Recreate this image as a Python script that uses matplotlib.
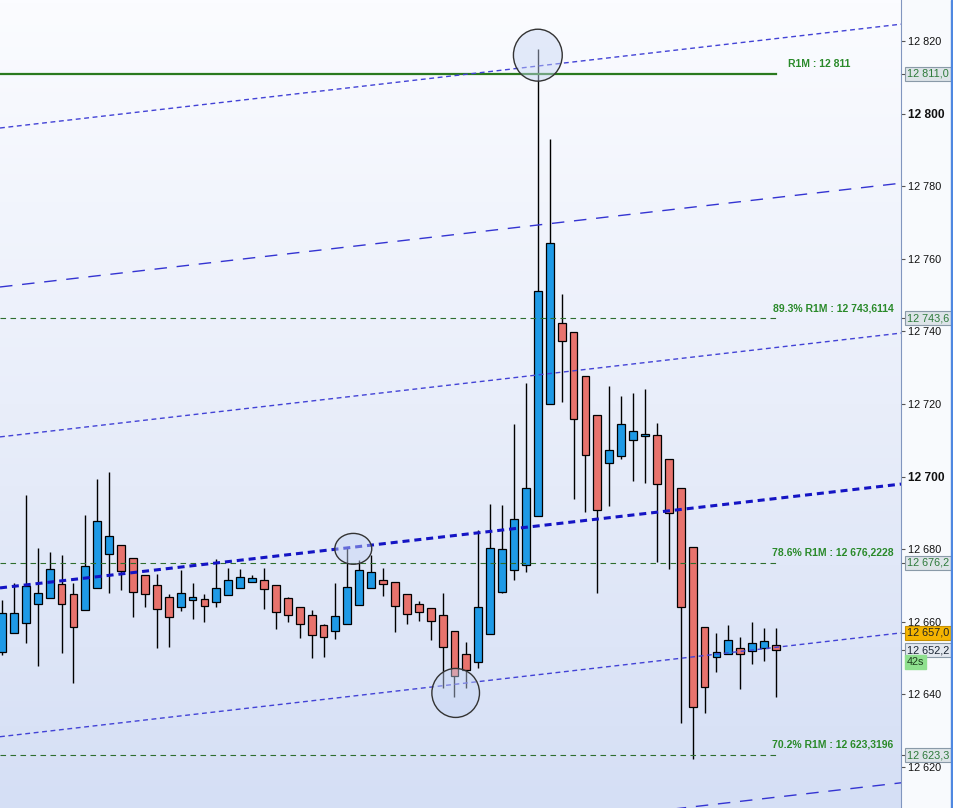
import numpy as np
import matplotlib.pyplot as plt
import matplotlib.transforms as mtrans
from matplotlib.patches import Ellipse, Rectangle
from matplotlib.colors import LinearSegmentedColormap

plt.rcParams['font.family'] = ['Liberation Sans', 'DejaVu Sans']

# bougies (une par barre)
opens = [12651.7, 12656.9, 12659.7, 12664.9, 12666.6, 12670.4, 12667.7, 12663.3, 12669.3, 12678.7,
         12681.2, 12677.6, 12672.9, 12670.1, 12666.8, 12664.1, 12666.0, 12666.3, 12665.5, 12667.4,
         12669.3, 12671.0, 12671.5, 12670.1, 12666.6, 12664.1, 12661.9, 12659.1, 12657.5, 12659.4,
         12664.6, 12669.3, 12671.5, 12671.0, 12667.7, 12664.9, 12663.8, 12661.9, 12657.5, 12651.1,
         12648.9, 12656.6, 12668.2, 12674.3, 12675.7, 12689.2, 12720.0, 12742.3, 12739.8, 12727.7,
         12717.0, 12703.8, 12705.7, 12710.1, 12711.2, 12711.5, 12704.9, 12696.9, 12680.6, 12658.6,
         12650.3, 12651.1, 12652.8, 12651.9, 12652.8, 12653.6]
highs = [12666.0, 12670.7, 12694.9, 12680.3, 12679.2, 12678.4, 12670.7, 12689.4, 12699.3, 12701.3,
         12681.2, 12677.6, 12672.9, 12673.2, 12667.7, 12674.3, 12670.7, 12667.7, 12677.3, 12674.8,
         12674.6, 12672.9, 12674.8, 12670.1, 12666.8, 12664.1, 12663.3, 12659.4, 12670.7, 12680.6,
         12677.0, 12678.4, 12674.8, 12671.0, 12667.7, 12665.7, 12663.8, 12667.9, 12657.5, 12654.4,
         12685.3, 12692.5, 12692.2, 12714.5, 12725.8, 12817.8, 12793.0, 12750.3, 12739.8, 12727.7,
         12717.0, 12725.0, 12722.2, 12723.0, 12724.1, 12714.8, 12704.9, 12696.9, 12680.6, 12658.6,
         12656.9, 12659.1, 12655.8, 12660.0, 12658.3, 12658.3]
lows = [12650.9, 12656.9, 12654.2, 12647.8, 12666.6, 12651.4, 12643.1, 12663.3, 12669.3, 12667.9,
        12668.8, 12661.3, 12664.1, 12652.8, 12653.1, 12663.0, 12660.8, 12660.0, 12664.1, 12667.4,
        12669.3, 12671.0, 12663.5, 12658.0, 12660.0, 12655.5, 12650.0, 12650.3, 12655.3, 12659.4,
        12664.6, 12669.3, 12667.1, 12657.2, 12659.4, 12660.2, 12655.0, 12641.8, 12639.3, 12641.8,
        12647.3, 12656.6, 12667.9, 12671.5, 12673.7, 12689.2, 12720.0, 12720.6, 12693.8, 12690.3,
        12667.9, 12691.9, 12704.9, 12698.8, 12698.2, 12676.5, 12674.6, 12632.1, 12622.2, 12634.9,
        12646.2, 12651.1, 12641.5, 12648.4, 12649.2, 12639.3]
closes = [12662.4, 12662.4, 12669.9, 12667.9, 12674.6, 12664.9, 12658.6, 12675.4, 12687.8, 12683.6,
          12674.0, 12668.2, 12667.7, 12663.5, 12661.3, 12667.9, 12666.8, 12664.4, 12669.3, 12671.5,
          12672.3, 12672.1, 12669.0, 12662.7, 12661.9, 12659.4, 12656.4, 12655.8, 12661.6, 12669.6,
          12674.3, 12673.7, 12670.4, 12664.4, 12662.2, 12662.7, 12660.2, 12653.1, 12645.1, 12646.7,
          12664.1, 12680.3, 12680.1, 12688.3, 12696.9, 12751.1, 12764.4, 12737.4, 12715.9, 12706.0,
          12690.8, 12707.3, 12714.5, 12712.6, 12711.7, 12697.9, 12689.9, 12664.1, 12636.5, 12642.0,
          12651.7, 12655.0, 12651.1, 12654.2, 12654.7, 12652.2]

# canal (lignes paralleles) : valeur a la bougie 0 + pente par bougie
channel_base = [12796.1, 12752.3, 12711.0, 12669.4, 12628.4, 12587.1]
channel_slope = 0.378

# niveaux R1M
r1m = 12811.0
fib_levels = [12743.6114, 12676.2228, 12623.3196]
fib_labels = ['89.3% R1M : 12 743,6114', '78.6% R1M : 12 676,2228', '70.2% R1M : 12 623,3196']

# etiquettes de prix sur l'axe
box_values = [12811.0, 12743.6, 12676.2, 12657.0, 12652.2, 12623.3]
yticks = [12620, 12640, 12660, 12680, 12700, 12720, 12740, 12760, 12780, 12800, 12820]

# cercles (indice bougie, prix, largeur, hauteur)
circle_idx = [45.0, 29.5, 38.1]
circle_price = [12816.1, 12680.1, 12640.4]
circle_w = [4.1, 3.1, 4.0]
circle_h = [14.3, 8.5, 13.5]

x_lo, x_hi = -0.17, 75.5
y_lo, y_hi = 12608.7, 12831.3

fig = plt.figure(figsize=(9.54, 8.08), dpi=100, facecolor='#f8fafd')
ax = fig.add_axes([0, 0, 901 / 954, 1])

# fond degrade
cmap = LinearSegmentedColormap.from_list('bg', ['#d5dff5', '#e9eefa', '#fbfcff'])
grad = np.linspace(0, 1, 256).reshape(-1, 1)
ax.imshow(grad, extent=[x_lo, x_hi, y_lo, y_hi], origin='lower', aspect='auto', cmap=cmap, zorder=0)

o = np.array(opens)
c = np.array(closes)
idx = np.arange(len(o))
body_col = np.where(c >= o, '#1e9ae6', '#e8736d')
ax.vlines(idx, lows, highs, color='black', lw=1, zorder=2)
ax.bar(idx, np.maximum(np.abs(c - o), 0.4), bottom=np.minimum(o, c), width=0.66,
       color=body_col, edgecolor='black', linewidth=0.9, zorder=3)

# lignes du canal
xs = np.array([x_lo, x_hi])
styles = [
    dict(color='#4343d6', lw=1.0, dashes=(3.5, 2.6)),
    dict(color='#3434d2', lw=1.0, dashes=(9, 7)),
    dict(color='#4343d6', lw=1.0, dashes=(3.5, 2.6)),
    dict(color='#1414c4', lw=2.2, dashes=(2.3, 1.6)),
    dict(color='#4343d6', lw=1.0, dashes=(3.5, 2.6)),
    dict(color='#3434d2', lw=1.0, dashes=(9, 7)),
]
for base, st in zip(channel_base, styles):
    ax.plot(xs, base + channel_slope * xs, zorder=5, **st)

# R1M et retracements
last = len(o) - 1
ax.plot([x_lo, last], [r1m, r1m], color='#2a7a1e', lw=1.6, zorder=4)
ax.text(65.97, r1m + 2.8, 'R1M : 12 811', ha='left', va='center', color='#2a8a2a',
        fontsize=7.5, fontweight='bold', zorder=6)
for lev, lab in zip(fib_levels, fib_labels):
    ax.plot([x_lo, last], [lev, lev], color='#2e6e2e', lw=0.8, dashes=(5, 4), zorder=4)
    ax.text(74.87, lev + 2.8, lab, ha='right', va='center', color='#2a8a2a',
            fontsize=7.5, fontweight='bold', zorder=6)

# cercles
for cx, cy, w, h in zip(circle_idx, circle_price, circle_w, circle_h):
    ax.add_patch(Ellipse((cx, cy), w, h, facecolor=(0.78, 0.84, 0.96, 0.45),
                         edgecolor='#333333', lw=1.0, zorder=7))

ax.set_xlim(x_lo, x_hi)
ax.set_ylim(y_lo, y_hi)
ax.set_xticks([])

# axe des prix a droite
ax.yaxis.tick_right()
ax.set_yticks(yticks, [f'{v:,}'.replace(',', ' ') for v in yticks])
ax.tick_params(axis='y', direction='out', length=3, width=0.8, color='#555555',
               labelsize=7.8, pad=2, labelcolor='#111111')
for lbl in ax.get_yticklabels():
    if lbl.get_text() in ('12 800', '12 700'):
        lbl.set_fontweight('bold')
        lbl.set_fontsize(8.6)
for s in ['top', 'left', 'bottom']:
    ax.spines[s].set_visible(False)
ax.spines['right'].set_color('#8196bf')

trans = mtrans.blended_transform_factory(ax.transAxes, ax.transData)
for v in box_values:
    txt = f'{v:,.1f}'.replace(',', ' ').replace('.', ',')
    if v == 12657.0:
        fc, ec, tc = '#f5b400', '#c89000', '#222222'
    elif v == 12652.2:
        fc, ec, tc = '#e3e8f0', '#8a9aa8', '#1a2433'
    else:
        fc, ec, tc = '#dde4e8', '#8a9aa8', '#2d7a3a'
    ax.plot([1.0, 1.005], [v, v], color='#555555', lw=0.8, transform=trans, clip_on=False)
    ax.text(1.0065, v, txt, transform=trans, ha='left', va='center', fontsize=7.8, color=tc,
            bbox=dict(boxstyle='square,pad=0.18', fc=fc, ec=ec, lw=0.8), clip_on=False, zorder=8)

# compte a rebours
ax.text(1.0065, 0.181, '42s', transform=ax.transAxes, ha='left', va='center', fontsize=7.8,
        color='#1d3d1d', bbox=dict(boxstyle='square,pad=0.18', fc='#8fe08f', ec='#8fe08f'),
        clip_on=False, zorder=8)

# barre bleue a droite
fig.patches.append(Rectangle((951 / 954, 0), 3 / 954, 1, transform=fig.transFigure,
                             color='#4f88e0', zorder=10))

fig.savefig('out.png', dpi=100, facecolor=fig.get_facecolor())
